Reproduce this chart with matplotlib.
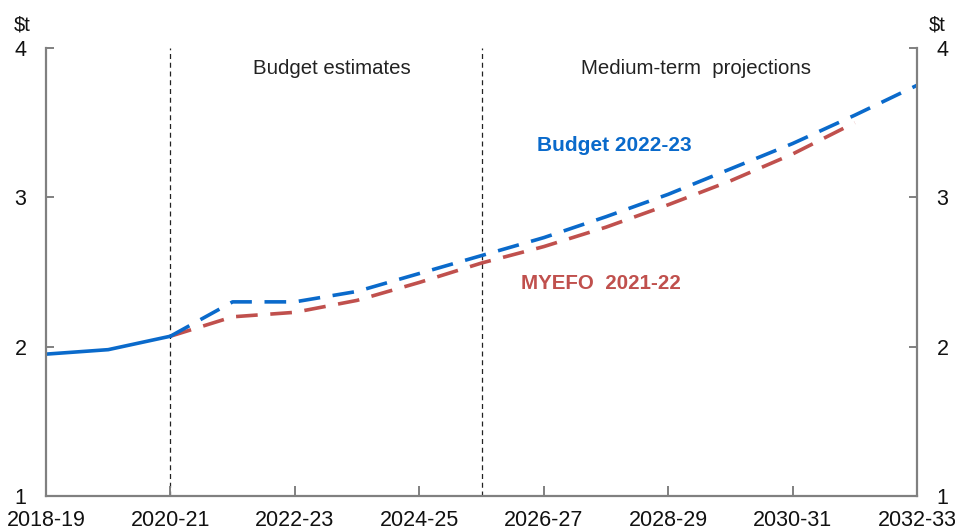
import matplotlib
matplotlib.use("Agg")
import matplotlib.pyplot as plt

years = ["2018-19", "2019-20", "2020-21", "2021-22", "2022-23", "2023-24", "2024-25",
         "2025-26", "2026-27", "2027-28", "2028-29", "2029-30", "2030-31", "2031-32",
         "2032-33"]

# Budget 2022-23: outcomes (solid) then estimates and projections (dashed)
budget_actual = [1.95, 1.98, 2.07]
budget_proj = [2.07, 2.30, 2.30, 2.37, 2.49, 2.61, 2.73, 2.87, 3.02, 3.19, 3.36, 3.55, 3.75]

# MYEFO 2021-22 projections
myefo_proj = [2.07, 2.20, 2.23, 2.31, 2.43, 2.56, 2.67, 2.80, 2.95, 3.11, 3.29, 3.50]

ytick_vals = [1, 2, 3, 4]
xtick_labels = years[::2]
split_years = ["2020-21", "2025-26"]

plt.rcParams["font.family"] = ["Liberation Sans", "DejaVu Sans"]

BLUE = "#0A6ACB"
RED = "#C0504D"
GREY = "#808080"

fig = plt.figure(figsize=(9.55, 5.32), dpi=100)
ax = fig.add_axes([46 / 955, 1 - 496 / 532, (917 - 46) / 955, (496 - 48) / 532])

xi = {y: i for i, y in enumerate(years)}
x_act = [xi[y] for y in years[:len(budget_actual)]]
x_bud = [xi[y] for y in years[2:2 + len(budget_proj)]]
x_my = [xi[y] for y in years[2:2 + len(myefo_proj)]]

ax.plot(x_my, myefo_proj, color=RED, lw=2.6, ls=(0, (6, 3.5)), dash_capstyle="butt")
ax.plot(x_bud, budget_proj, color=BLUE, lw=2.6, ls=(0, (6, 3.5)), dash_capstyle="butt")
ax.plot(x_act, budget_actual, color=BLUE, lw=2.6, solid_capstyle="round")

for s in split_years:
    ax.axvline(xi[s], color="#222222", lw=0.9, ls=(0, (4, 3)), zorder=0)

ax.set_xlim(0, len(years) - 1)
ax.set_ylim(1, 4)
ax.set_xticks([xi[y] for y in xtick_labels])
ax.set_xticklabels(xtick_labels)
ax.set_yticks(ytick_vals)
ax.set_yticklabels([str(v) for v in ytick_vals])

for side in ["left", "right", "bottom"]:
    ax.spines[side].set_color(GREY)
    ax.spines[side].set_linewidth(1.6)
ax.spines["top"].set_visible(False)

ax.tick_params(axis="both", direction="in", color=GREY, width=1.4, labelsize=15.5,
               labelcolor="#111111")
ax.tick_params(axis="y", length=6, pad=14, right=True, labelright=True)
ax.tick_params(axis="x", length=7, pad=10)

ax.text(-0.018, 1.03, "$t", transform=ax.transAxes, ha="right", va="bottom",
        fontsize=14.5, color="#111111")
ax.text(1.013, 1.03, "$t", transform=ax.transAxes, ha="left", va="bottom",
        fontsize=14.5, color="#111111")

ax.text(4.6, 3.86, "Budget estimates", ha="center", va="center", fontsize=14.7,
        color="#222222")
ax.text(10.45, 3.86, "Medium-term  projections", ha="center", va="center", fontsize=14.7,
        color="#222222")

ax.text(9.14, 3.35, "Budget 2022-23", ha="center", va="center", fontsize=15,
        color=BLUE, fontweight="bold")
ax.text(8.92, 2.42, "MYEFO  2021-22", ha="center", va="center", fontsize=14.8,
        color=RED, fontweight="bold")

fig.savefig("out.png", dpi=100)
